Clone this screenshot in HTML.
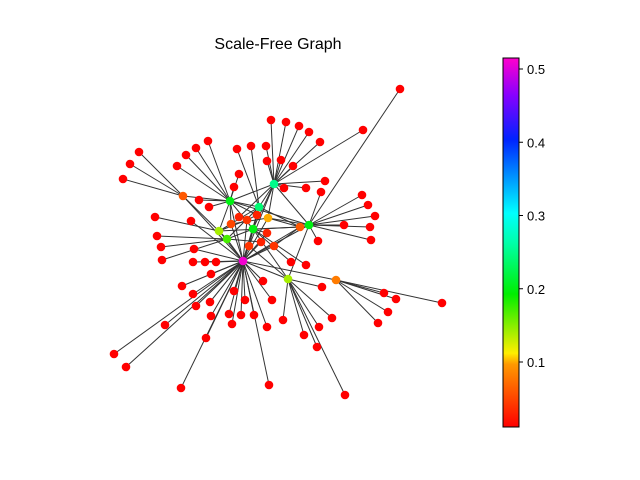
<!DOCTYPE html>
<html><head><meta charset="utf-8"><style>
body{margin:0;background:#fff}
svg{display:block;font-family:"Liberation Sans","DejaVu Sans",sans-serif}
</style></head><body>
<svg id="chart" width="640" height="480">
<defs><linearGradient id="hsv" x1="0" y1="1" x2="0" y2="0">
<stop offset="0" stop-color="#ff0000"/><stop offset="0.17" stop-color="#ffff00"/><stop offset="0.34" stop-color="#00ff00"/><stop offset="0.5" stop-color="#00ffff"/><stop offset="0.67" stop-color="#0000ff"/><stop offset="0.83" stop-color="#ff00ff"/><stop offset="1" stop-color="#ff0018"/></linearGradient>
<linearGradient id="bar" x1="0" y1="1" x2="0" y2="0">
<stop offset="0" stop-color="#ff0000"/><stop offset="0.17" stop-color="#ff9900"/><stop offset="0.2" stop-color="#ffee00"/><stop offset="0.36" stop-color="#00ee00"/><stop offset="0.5" stop-color="#00ffaa"/><stop offset="0.58" stop-color="#00ffff"/><stop offset="0.78" stop-color="#0022ff"/><stop offset="0.9" stop-color="#8800ff"/><stop offset="1" stop-color="#ff00cc"/></linearGradient></defs>
<text x="278" y="49" text-anchor="middle" font-size="16">Scale-Free Graph</text>
<g id="edges"></g>
<g id="nodes"></g>
<g id="cbar">
<rect x="503" y="58" width="16" height="369" fill="url(#bar)" stroke="#000" stroke-width="1"/>
</g>
</svg>
<script>
const hubX=[243,230,274,259,268,253,219,227,309,300,288,336,183,231,247,257,267,249,274,261,239];
const hubY=[261,201,184,207,218,229,231,239,225,227,279,280,196,224,220,215,233,246,246,242,217];
const hubVal=[0.51,0.2,0.25,0.24,0.1,0.2,0.14,0.17,0.2,0.06,0.14,0.08,0.06,0.05,0.04,0.03,0.03,0.04,0.04,0.03,0.03];
const leafX=[400,363,271,286,299,309,320,266,267,281,293,251,237,208,196,186,177,239,234,139,130,123,325,306,321,284,362,368,375,370,344,371,318,155,157,161,162,191,194,193,205,216,199,209,306,291,263,322,211,182,193,210,196,234,245,272,229,241,254,232,211,206,165,114,126,181,269,267,283,304,317,319,332,345,384,396,442,388,378];
const leafY=[89,130,120,122,126,132,142,146,161,160,166,146,149,141,148,155,166,174,187,152,164,179,181,188,192,188,195,205,216,227,225,240,241,217,236,247,260,221,249,262,262,262,200,207,265,262,281,287,274,286,294,302,306,291,300,300,314,315,315,324,316,338,325,354,367,388,385,327,320,335,347,327,318,395,293,299,303,312,323];
const leafParent=[8,2,2,2,2,2,2,2,2,2,2,3,3,1,1,1,1,1,1,12,12,12,2,2,8,2,8,8,8,8,8,8,8,6,7,7,7,0,0,0,0,0,1,1,5,5,0,10,0,0,0,0,0,0,0,0,0,0,0,0,0,0,0,0,0,0,0,0,10,10,10,10,10,10,11,11,11,11,11];
const hubEdges=[[0,1],[0,2],[0,3],[0,4],[0,5],[0,6],[0,7],[0,8],[0,9],[0,10],[0,11],[0,12],[0,13],[0,14],[0,16],[0,17],[0,18],[0,19],[1,2],[1,3],[1,5],[1,6],[1,8],[1,12],[1,13],[1,15],[2,3],[2,4],[2,8],[2,5],[2,20],[3,6],[3,9],[3,7],[4,9],[4,13],[4,8],[5,7],[5,9],[5,16],[6,13],[6,14],[7,19],[8,9],[8,10],[9,18],[10,17],[12,7],[14,15],[3,17],[5,10],[6,9]];
function color(v){const t=(v-0.011)/(0.515-0.011);
const stops=[[0,[255,0,0]],[0.17,[255,153,0]],[0.2,[255,238,0]],[0.36,[0,238,0]],[0.5,[0,255,170]],[0.58,[0,255,255]],[0.78,[0,34,255]],[0.9,[136,0,255]],[1,[255,0,204]]];
for(let i=1;i<stops.length;i++){if(t<=stops[i][0]){const a=stops[i-1],b=stops[i],f=(t-a[0])/(b[0]-a[0]);
return 'rgb('+a[1].map((c,k)=>Math.round(c+(b[1][k]-c)*f)).join(',')+')';}}return 'rgb(255,0,204)';}
const NS='http://www.w3.org/2000/svg';
const eg=document.getElementById('edges'),ng=document.getElementById('nodes');
function line(x1,y1,x2,y2){const l=document.createElementNS(NS,'line');
l.setAttribute('x1',x1);l.setAttribute('y1',y1);l.setAttribute('x2',x2);l.setAttribute('y2',y2);
l.setAttribute('stroke','#333');l.setAttribute('stroke-width','1');


eg.appendChild(l);}
hubEdges.forEach(e=>line(hubX[e[0]],hubY[e[0]],hubX[e[1]],hubY[e[1]]));
leafX.forEach((x,i)=>{const p=leafParent[i];line(x,leafY[i],hubX[p],hubY[p]);});
function node(x,y,v){const c=document.createElementNS(NS,'circle');
c.setAttribute('cx',x);c.setAttribute('cy',y);c.setAttribute('r','4.3');c.setAttribute('fill',color(v));


ng.appendChild(c);}
leafX.forEach((x,i)=>node(x,leafY[i],0.011));
hubX.forEach((x,i)=>node(x,hubY[i],hubVal[i]));
const cbTicks=[0.1,0.2,0.3,0.4,0.5];
const cb=document.getElementById('cbar');
cbTicks.forEach(v=>{const y=362-(v-0.1)*732.5;
const t=document.createElementNS(NS,'line');t.setAttribute('x1',519);t.setAttribute('x2',523);t.setAttribute('y1',y);t.setAttribute('y2',y);t.setAttribute('stroke','#000');


cb.appendChild(t);
const tx=document.createElementNS(NS,'text');tx.setAttribute('x',527);tx.setAttribute('y',y+5);tx.setAttribute('font-size','13');tx.textContent=v.toFixed(1);


cb.appendChild(tx);});
</script>
</body></html>
